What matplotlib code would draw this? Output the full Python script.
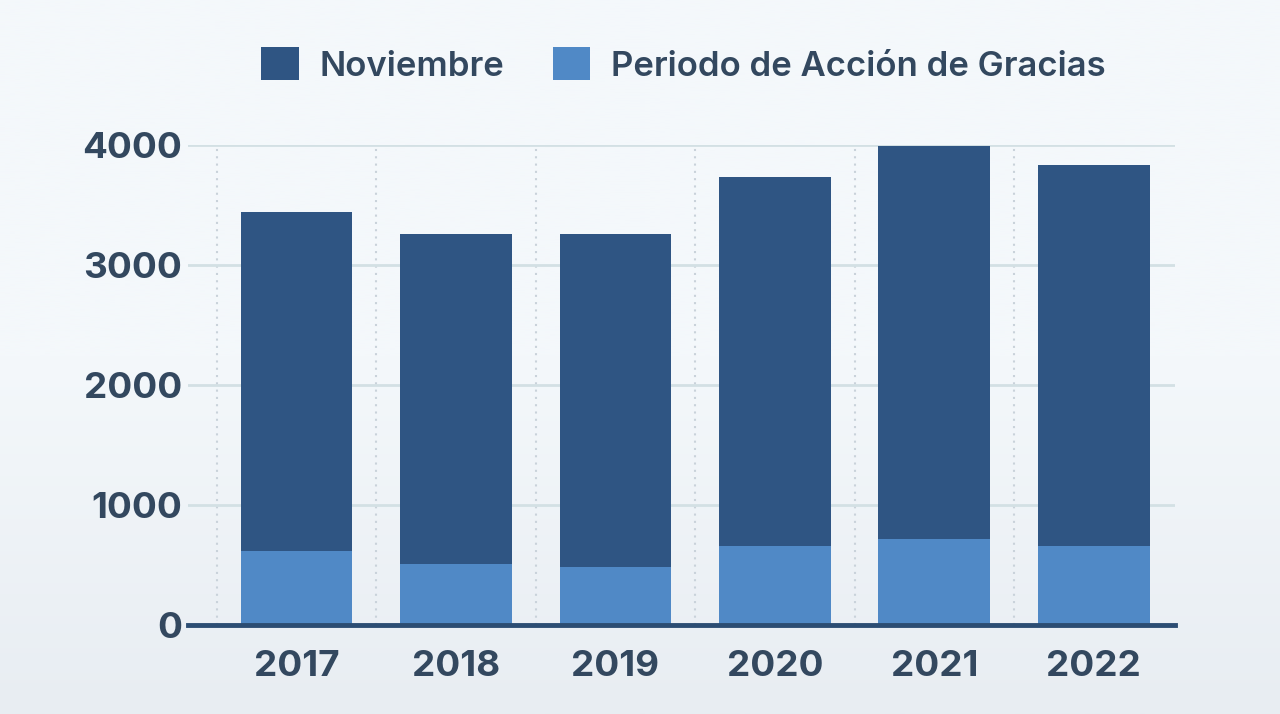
import numpy as np
import matplotlib.pyplot as plt
from matplotlib.patches import Patch

plt.rcParams['font.family'] = ['Inter', 'DejaVu Sans']

years = ['2017', '2018', '2019', '2020', '2021', '2022']
noviembre = [3440, 3260, 3260, 3730, 3990, 3830]
accion_gracias = [615, 510, 485, 655, 715, 655]

dark = '#2f5583'
light = '#5089c6'
text_col = '#33485f'
bg = '#f4f8fb'

fig = plt.figure(figsize=(12.8, 7.14), dpi=100)
fig.patch.set_facecolor(bg)

# soft gradient towards the bottom
grad = np.linspace(0, 1, 256).reshape(-1, 1)
bg_ax = fig.add_axes([0, 0, 1, 1], zorder=-10)
bg_ax.imshow(grad, aspect='auto', extent=[0, 1, 0, 1],
             cmap=plt.matplotlib.colors.LinearSegmentedColormap.from_list(
                 'bg', ['#e8edf2', bg, bg]), origin='lower')
bg_ax.axis('off')

ax = fig.add_axes([0.1469, 0.1246, 0.7711, 0.6724])
ax.set_facecolor('none')

x = np.arange(len(years))
ax.bar(x, noviembre, width=0.70, color=dark, zorder=3)
ax.bar(x, accion_gracias, width=0.70, color=light, zorder=4)

ax.set_xlim(-0.68, 5.51)
ax.set_ylim(0, 4000)
ax.set_yticks([0, 1000, 2000, 3000, 4000])
ax.set_xticks(x)
ax.set_xticklabels(years)

ax.grid(axis='y', color='#d3e0e4', linewidth=2, zorder=1)
for xv in np.arange(-0.5, 5.0, 1.0):
    ax.axvline(xv, color='#c9d2da', linestyle=(0, (1, 2.5)), linewidth=1.5, zorder=1)

for s in ['top', 'right', 'left']:
    ax.spines[s].set_visible(False)
ax.spines['bottom'].set_color('#2c4d73')
ax.spines['bottom'].set_linewidth(3.5)
ax.spines['bottom'].set_zorder(5)

ax.tick_params(axis='both', length=0, labelsize=26.5, labelcolor=text_col)
ax.tick_params(axis='x', pad=18)
ax.tick_params(axis='y', pad=4)
for lbl in ax.get_xticklabels() + ax.get_yticklabels():
    lbl.set_fontweight('bold')

handles = [Patch(facecolor=dark, label='Noviembre'),
           Patch(facecolor=light, label='Periodo de Acción de Gracias')]
leg = fig.legend(handles=handles, loc='center', bbox_to_anchor=(0.534, 0.909),
                 ncol=2, frameon=False, fontsize=25, handlelength=1.08,
                 handleheight=1.08, handletextpad=0.6, columnspacing=1.4)
for t in leg.get_texts():
    t.set_color(text_col)
    t.set_fontweight('semibold')

fig.savefig('out.png', dpi=100, facecolor=fig.get_facecolor())
